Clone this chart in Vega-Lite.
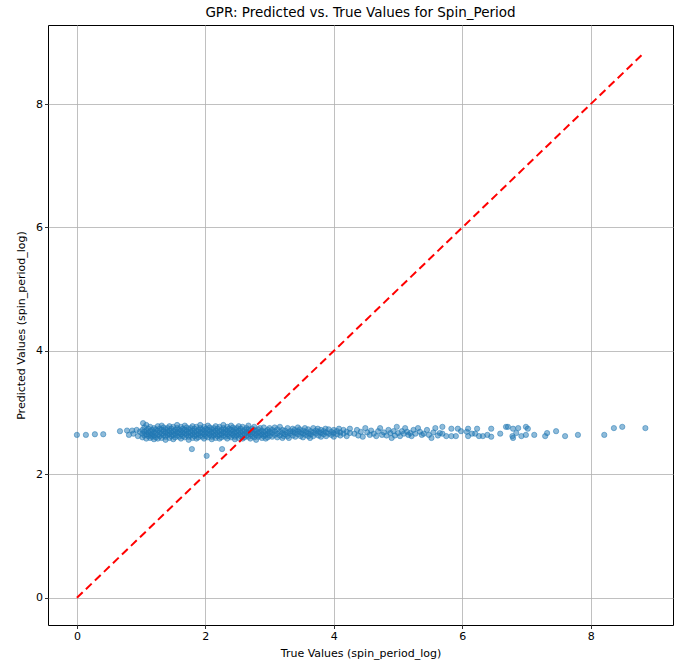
{
"$schema":"https://vega.github.io/schema/vega-lite/v6.json",
"width":625,"height":600,
"autosize":{"type":"none"},
"padding":{"left":48,"top":25,"right":8,"bottom":42},
"background":"white",
"title":{"text":"GPR: Predicted vs. True Values for Spin_Period","font":"DejaVu Sans","fontSize":13.5,"fontWeight":"normal","color":"black","offset":6},
"config":{
 "view":{"stroke":"black","strokeWidth":1},
 "axis":{"domain":false,"grid":true,"gridColor":"#b0b0b0","gridWidth":0.8,"tickColor":"black","tickSize":3.5,"tickWidth":0.8,"labelFont":"DejaVu Sans","labelFontSize":11,"labelColor":"black","labelPadding":2,"titleFont":"DejaVu Sans","titleFontSize":11,"titleFontWeight":"normal","titleColor":"black","format":"d"}
},
"datasets":{
"diag":[{"t":0,"p":0},{"t":8.84,"p":8.84}],
"pts":[
{"t":0.00,"p":2.64},{"t":0.14,"p":2.64},{"t":0.28,"p":2.65},{"t":0.41,"p":2.65},{"t":0.67,"p":2.70},{"t":0.78,"p":2.71},{"t":0.86,"p":2.71},{"t":0.93,"p":2.72},{"t":1.03,"p":2.83},{"t":0.81,"p":2.64},{"t":0.88,"p":2.66},{"t":0.95,"p":2.62},{"t":0.98,"p":2.69},
{"t":1.79,"p":2.41},{"t":2.02,"p":2.30},{"t":2.26,"p":2.41},
{"t":1.02,"p":2.66},{"t":1.02,"p":2.72},{"t":1.02,"p":2.60},
{"t":1.05,"p":2.69},{"t":1.05,"p":2.63},{"t":1.05,"p":2.76},
{"t":1.08,"p":2.65},{"t":1.08,"p":2.71},{"t":1.08,"p":2.58},{"t":1.08,"p":2.80},
{"t":1.11,"p":2.68},{"t":1.11,"p":2.62},{"t":1.11,"p":2.74},
{"t":1.14,"p":2.70},{"t":1.14,"p":2.64},{"t":1.14,"p":2.77},{"t":1.14,"p":2.59},
{"t":1.17,"p":2.66},{"t":1.17,"p":2.72},{"t":1.17,"p":2.61},
{"t":1.20,"p":2.69},{"t":1.20,"p":2.75},{"t":1.20,"p":2.63},{"t":1.20,"p":2.57},
{"t":1.23,"p":2.67},{"t":1.23,"p":2.73},{"t":1.23,"p":2.60},
{"t":1.26,"p":2.71},{"t":1.26,"p":2.64},{"t":1.26,"p":2.78},{"t":1.26,"p":2.58},
{"t":1.29,"p":2.68},{"t":1.29,"p":2.62},{"t":1.29,"p":2.74},
{"t":1.32,"p":2.66},{"t":1.32,"p":2.72},{"t":1.32,"p":2.59},{"t":1.32,"p":2.79},
{"t":1.35,"p":2.70},{"t":1.35,"p":2.63},{"t":1.35,"p":2.76},
{"t":1.38,"p":2.67},{"t":1.38,"p":2.61},{"t":1.38,"p":2.73},{"t":1.38,"p":2.56},
{"t":1.41,"p":2.69},{"t":1.41,"p":2.75},{"t":1.41,"p":2.64},
{"t":1.44,"p":2.65},{"t":1.44,"p":2.71},{"t":1.44,"p":2.59},{"t":1.44,"p":2.78},
{"t":1.47,"p":2.68},{"t":1.47,"p":2.62},{"t":1.47,"p":2.74},
{"t":1.50,"p":2.70},{"t":1.50,"p":2.64},{"t":1.50,"p":2.77},{"t":1.50,"p":2.57},
{"t":1.53,"p":2.66},{"t":1.53,"p":2.72},{"t":1.53,"p":2.60},
{"t":1.56,"p":2.69},{"t":1.56,"p":2.63},{"t":1.56,"p":2.75},{"t":1.56,"p":2.80},
{"t":1.59,"p":2.67},{"t":1.59,"p":2.61},{"t":1.59,"p":2.73},
{"t":1.62,"p":2.71},{"t":1.62,"p":2.65},{"t":1.62,"p":2.58},{"t":1.62,"p":2.77},
{"t":1.65,"p":2.68},{"t":1.65,"p":2.62},{"t":1.65,"p":2.74},
{"t":1.68,"p":2.66},{"t":1.68,"p":2.72},{"t":1.68,"p":2.60},{"t":1.68,"p":2.79},
{"t":1.71,"p":2.70},{"t":1.71,"p":2.64},{"t":1.71,"p":2.76},
{"t":1.74,"p":2.67},{"t":1.74,"p":2.61},{"t":1.74,"p":2.73},{"t":1.74,"p":2.56},
{"t":1.77,"p":2.69},{"t":1.77,"p":2.75},{"t":1.77,"p":2.63},
{"t":1.80,"p":2.65},{"t":1.80,"p":2.71},{"t":1.80,"p":2.59},{"t":1.80,"p":2.78},
{"t":1.83,"p":2.68},{"t":1.83,"p":2.62},{"t":1.83,"p":2.74},
{"t":1.86,"p":2.70},{"t":1.86,"p":2.64},{"t":1.86,"p":2.77},{"t":1.86,"p":2.58},
{"t":1.89,"p":2.66},{"t":1.89,"p":2.72},{"t":1.89,"p":2.60},
{"t":1.92,"p":2.69},{"t":1.92,"p":2.63},{"t":1.92,"p":2.75},{"t":1.92,"p":2.80},
{"t":1.95,"p":2.67},{"t":1.95,"p":2.61},{"t":1.95,"p":2.73},
{"t":1.98,"p":2.71},{"t":1.98,"p":2.65},{"t":1.98,"p":2.58},{"t":1.98,"p":2.77},
{"t":2.01,"p":2.68},{"t":2.01,"p":2.62},{"t":2.01,"p":2.74},
{"t":2.04,"p":2.66},{"t":2.04,"p":2.72},{"t":2.04,"p":2.60},{"t":2.04,"p":2.79},
{"t":2.07,"p":2.70},{"t":2.07,"p":2.64},{"t":2.07,"p":2.76},
{"t":2.10,"p":2.67},{"t":2.10,"p":2.61},{"t":2.10,"p":2.73},{"t":2.10,"p":2.57},
{"t":2.13,"p":2.69},{"t":2.13,"p":2.75},{"t":2.13,"p":2.63},
{"t":2.16,"p":2.65},{"t":2.16,"p":2.71},{"t":2.16,"p":2.59},{"t":2.16,"p":2.78},
{"t":2.19,"p":2.68},{"t":2.19,"p":2.62},{"t":2.19,"p":2.74},
{"t":2.22,"p":2.70},{"t":2.22,"p":2.64},{"t":2.22,"p":2.77},{"t":2.22,"p":2.58},
{"t":2.25,"p":2.66},{"t":2.25,"p":2.72},{"t":2.25,"p":2.60},
{"t":2.28,"p":2.69},{"t":2.28,"p":2.63},{"t":2.28,"p":2.75},{"t":2.28,"p":2.80},
{"t":2.31,"p":2.67},{"t":2.31,"p":2.61},{"t":2.31,"p":2.73},
{"t":2.34,"p":2.71},{"t":2.34,"p":2.65},{"t":2.34,"p":2.58},{"t":2.34,"p":2.77},
{"t":2.37,"p":2.68},{"t":2.37,"p":2.62},{"t":2.37,"p":2.74},
{"t":2.40,"p":2.66},{"t":2.40,"p":2.72},{"t":2.40,"p":2.60},{"t":2.40,"p":2.79},
{"t":2.43,"p":2.70},{"t":2.43,"p":2.64},{"t":2.43,"p":2.76},
{"t":2.46,"p":2.67},{"t":2.46,"p":2.61},{"t":2.46,"p":2.73},{"t":2.46,"p":2.57},
{"t":2.49,"p":2.69},{"t":2.49,"p":2.75},{"t":2.49,"p":2.63},
{"t":2.52,"p":2.65},{"t":2.52,"p":2.71},{"t":2.52,"p":2.59},{"t":2.52,"p":2.78},
{"t":2.55,"p":2.68},{"t":2.55,"p":2.62},{"t":2.55,"p":2.74},
{"t":2.58,"p":2.70},{"t":2.58,"p":2.64},{"t":2.58,"p":2.77},{"t":2.58,"p":2.58},
{"t":2.61,"p":2.66},{"t":2.61,"p":2.72},{"t":2.61,"p":2.60},
{"t":2.64,"p":2.69},{"t":2.64,"p":2.63},{"t":2.64,"p":2.75},
{"t":2.67,"p":2.67},{"t":2.67,"p":2.61},{"t":2.67,"p":2.73},{"t":2.67,"p":2.79},
{"t":2.70,"p":2.71},{"t":2.70,"p":2.65},{"t":2.70,"p":2.58},
{"t":2.73,"p":2.68},{"t":2.73,"p":2.62},{"t":2.73,"p":2.74},
{"t":2.76,"p":2.66},{"t":2.76,"p":2.72},{"t":2.76,"p":2.60},{"t":2.76,"p":2.77},
{"t":2.79,"p":2.70},{"t":2.79,"p":2.64},{"t":2.79,"p":2.56},
{"t":2.82,"p":2.67},{"t":2.82,"p":2.61},{"t":2.82,"p":2.73},
{"t":2.85,"p":2.69},{"t":2.85,"p":2.75},{"t":2.85,"p":2.63},
{"t":2.88,"p":2.65},{"t":2.88,"p":2.71},{"t":2.88,"p":2.59},
{"t":2.91,"p":2.68},{"t":2.91,"p":2.62},{"t":2.91,"p":2.76},
{"t":2.94,"p":2.70},{"t":2.94,"p":2.64},{"t":2.94,"p":2.58},
{"t":2.97,"p":2.66},{"t":2.97,"p":2.72},{"t":2.97,"p":2.60},
{"t":3.00,"p":2.69},{"t":3.00,"p":2.63},{"t":3.00,"p":2.75},
{"t":3.04,"p":2.67},{"t":3.04,"p":2.72},{"t":3.04,"p":2.61},
{"t":3.08,"p":2.70},{"t":3.08,"p":2.64},{"t":3.08,"p":2.76},
{"t":3.12,"p":2.66},{"t":3.12,"p":2.60},{"t":3.12,"p":2.73},
{"t":3.16,"p":2.69},{"t":3.16,"p":2.63},{"t":3.16,"p":2.77},
{"t":3.20,"p":2.67},{"t":3.20,"p":2.72},{"t":3.20,"p":2.59},
{"t":3.24,"p":2.71},{"t":3.24,"p":2.65},{"t":3.22,"p":2.62},
{"t":3.28,"p":2.68},{"t":3.28,"p":2.62},{"t":3.28,"p":2.75},
{"t":3.32,"p":2.66},{"t":3.32,"p":2.70},{"t":3.30,"p":2.59},
{"t":3.36,"p":2.69},{"t":3.36,"p":2.63},{"t":3.36,"p":2.74},
{"t":3.40,"p":2.67},{"t":3.40,"p":2.61},{"t":3.39,"p":2.72},
{"t":3.44,"p":2.70},{"t":3.44,"p":2.65},{"t":3.44,"p":2.76},
{"t":3.48,"p":2.68},{"t":3.48,"p":2.62},{"t":3.47,"p":2.73},
{"t":3.52,"p":2.66},{"t":3.52,"p":2.71},{"t":3.52,"p":2.60},
{"t":3.56,"p":2.69},{"t":3.56,"p":2.64},{"t":3.55,"p":2.75},
{"t":3.60,"p":2.67},{"t":3.60,"p":2.73},{"t":3.60,"p":2.62},
{"t":3.64,"p":2.70},{"t":3.64,"p":2.65},{"t":3.63,"p":2.59},
{"t":3.68,"p":2.68},{"t":3.68,"p":2.62},{"t":3.68,"p":2.75},
{"t":3.72,"p":2.66},{"t":3.72,"p":2.71},
{"t":3.76,"p":2.69},{"t":3.76,"p":2.63},{"t":3.75,"p":2.74},
{"t":3.80,"p":2.67},{"t":3.80,"p":2.72},{"t":3.80,"p":2.61},
{"t":3.84,"p":2.70},{"t":3.84,"p":2.65},
{"t":3.88,"p":2.68},{"t":3.88,"p":2.62},{"t":3.87,"p":2.74},
{"t":3.92,"p":2.66},{"t":3.92,"p":2.73},
{"t":3.96,"p":2.69},{"t":3.96,"p":2.64},
{"t":4.00,"p":2.67},{"t":4.00,"p":2.61},{"t":4.00,"p":2.72},
{"t":4.05,"p":2.70},{"t":4.05,"p":2.65},
{"t":4.10,"p":2.68},{"t":4.10,"p":2.63},{"t":4.08,"p":2.74},
{"t":4.15,"p":2.66},{"t":4.15,"p":2.72},
{"t":4.20,"p":2.69},{"t":4.20,"p":2.62},
{"t":4.25,"p":2.67},{"t":4.25,"p":2.74},
{"t":4.32,"p":2.66},{"t":4.36,"p":2.72},{"t":4.38,"p":2.63},{"t":4.42,"p":2.69},{"t":4.45,"p":2.61},{"t":4.49,"p":2.75},{"t":4.52,"p":2.68},{"t":4.56,"p":2.64},{"t":4.58,"p":2.71},{"t":4.62,"p":2.66},{"t":4.66,"p":2.62},{"t":4.69,"p":2.70},{"t":4.72,"p":2.75},{"t":4.75,"p":2.64},{"t":4.78,"p":2.68},{"t":4.82,"p":2.63},{"t":4.85,"p":2.72},{"t":4.88,"p":2.67},{"t":4.90,"p":2.59},{"t":4.93,"p":2.70},{"t":4.95,"p":2.63},{"t":4.98,"p":2.77},{"t":5.00,"p":2.67},{"t":5.03,"p":2.62},{"t":5.06,"p":2.70},{"t":5.09,"p":2.66},{"t":5.11,"p":2.75},{"t":5.14,"p":2.69},{"t":5.16,"p":2.64},{"t":5.19,"p":2.67},{"t":5.21,"p":2.62},{"t":5.24,"p":2.72},{"t":5.27,"p":2.66},{"t":5.31,"p":2.75},{"t":5.34,"p":2.69},{"t":5.37,"p":2.64},{"t":5.40,"p":2.66},{"t":5.45,"p":2.72},{"t":5.48,"p":2.64},{"t":5.52,"p":2.59},{"t":5.55,"p":2.68},{"t":5.58,"p":2.75},{"t":5.62,"p":2.63},{"t":5.65,"p":2.67},
{"t":5.69,"p":2.77},{"t":5.69,"p":2.66},{"t":5.75,"p":2.62},{"t":5.83,"p":2.74},{"t":5.83,"p":2.62},{"t":5.90,"p":2.62},{"t":5.93,"p":2.74},{"t":5.98,"p":2.70},{"t":6.07,"p":2.69},{"t":6.09,"p":2.74},{"t":6.09,"p":2.62},{"t":6.15,"p":2.66},{"t":6.20,"p":2.66},{"t":6.23,"p":2.74},{"t":6.26,"p":2.62},{"t":6.32,"p":2.62},{"t":6.39,"p":2.64},{"t":6.45,"p":2.61},{"t":6.45,"p":2.74},{"t":6.59,"p":2.66},{"t":6.68,"p":2.77},{"t":6.71,"p":2.77},{"t":6.78,"p":2.62},{"t":6.79,"p":2.74},{"t":6.79,"p":2.59},{"t":6.84,"p":2.67},{"t":6.87,"p":2.75},{"t":6.92,"p":2.62},{"t":6.99,"p":2.64},{"t":6.99,"p":2.77},{"t":7.02,"p":2.74},{"t":7.12,"p":2.64},{"t":7.29,"p":2.62},{"t":7.32,"p":2.67},{"t":7.46,"p":2.70},{"t":7.60,"p":2.62},{"t":7.80,"p":2.64},{"t":8.21,"p":2.64},{"t":8.36,"p":2.75},{"t":8.49,"p":2.77},{"t":8.85,"p":2.75}
]
},
"layer":[
{"data":{"name":"pts"},"mark":{"type":"point","shape":"circle","filled":true,"size":28,"fill":"#1f77b4","fillOpacity":0.5,"stroke":"#1f77b4","strokeOpacity":0.5,"strokeWidth":1},
 "encoding":{
  "x":{"field":"t","type":"quantitative","scale":{"domain":[-0.45,9.28],"nice":false,"zero":false},"axis":{"values":[0,2,4,6,8],"title":"True Values (spin_period_log)","titlePadding":6}},
  "y":{"field":"p","type":"quantitative","scale":{"domain":[-0.44,9.28],"nice":false,"zero":false},"axis":{"values":[0,2,4,6,8],"title":"Predicted Values (spin_period_log)","titlePadding":9}}
 }},
{"data":{"name":"diag"},"mark":{"type":"line","color":"red","strokeWidth":2,"strokeDash":[8,4.5]},
 "encoding":{"x":{"field":"t","type":"quantitative"},"y":{"field":"p","type":"quantitative"}}}
]
}
